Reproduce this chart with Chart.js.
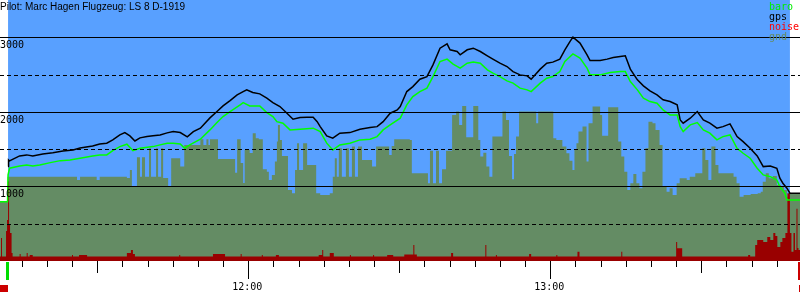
<!DOCTYPE html>
<html>
<head>
<meta charset="utf-8">
<script src="https://cdn.jsdelivr.net/npm/chart.js@4"></script>
<style>
html, body { margin: 0; padding: 0; background: #fff; }
</style>
</head>
<body>
<canvas id="barogram" width="800" height="300"></canvas>
<script>
// times are minutes after midnight (720 = 12:00)
const title = 'Pilot: Marc Hagen Flugzeug: LS 8 D-1919';
const takeoff = 672.3;
const landing = 827.6;
const startMark = 672.1;
const endMark = 829.3;

const gpsTime = [
  672.3,672.4,672.6,674.6,676.0,677.2,679.2,681.2,683.2,685.2,
  686.6,689.1,690.5,691.9,693.1,694.5,695.5,696.5,697.5,698.5,
  699.9,701.1,702.5,703.9,705.1,706.5,707.9,709.1,710.5,712.4,
  713.8,715.0,716.4,717.8,719.0,719.7,720.9,722.3,723.7,724.9,
  726.3,727.7,728.9,730.3,731.7,732.9,733.7,734.3,735.6,736.8,
  738.2,740.2,742.2,744.2,745.6,746.8,748.2,749.6,750.2,751.5,
  752.7,754.1,755.5,756.7,758.1,759.5,760.1,761.5,762.1,763.5,
  764.7,766.1,767.5,768.6,770.0,771.4,772.6,774.0,775.4,776.2,
  778.0,779.3,780.5,781.9,782.9,783.9,784.5,785.9,787.3,787.9,
  789.9,791.3,792.5,793.9,794.9,795.9,797.3,798.5,799.8,801.2,
  802.4,803.8,805.2,805.8,806.4,807.8,809.2,810.4,811.7,813.1,
  814.3,815.7,817.1,818.3,819.7,821.1,822.3,823.7,825.0,825.6,
  826.2,827.0,827.6,829.6
];
const gpsAlt = [
  1266,1355,1342,1409,1423,1409,1436,1453,1476,1490,
  1516,1543,1570,1580,1624,1691,1722,1678,1610,1651,
  1668,1678,1691,1718,1735,1722,1664,1735,1781,1919,
  2004,2080,2151,2228,2272,2295,2259,2241,2183,2124,
  2071,1982,1902,1923,1928,1928,1869,1802,1678,1647,
  1714,1722,1767,1789,1802,1869,1982,2026,2071,2272,
  2339,2438,2473,2630,2854,2912,2832,2809,2765,2832,
  2854,2809,2751,2707,2653,2608,2540,2496,2483,2438,
  2573,2653,2667,2707,2832,2943,3002,2922,2765,2688,
  2688,2707,2728,2742,2751,2573,2429,2349,2281,2228,
  2161,2138,2094,1892,1848,1915,2004,1892,1848,1781,
  1802,1839,1668,1601,1512,1409,1266,1275,1244,1110,
  1043,976,909,909
];

const baroTime = [
  670.7,672.2,672.3,672.6,674.6,676.0,677.2,678.6,680.7,682.7,
  684.6,686.6,689.1,690.5,691.9,693.1,694.5,695.9,697.1,698.5,
  701.1,702.5,703.9,705.1,706.5,707.4,708.4,710.5,712.4,713.8,
  715.0,716.4,718.4,719.0,720.3,722.3,723.7,724.9,725.7,726.9,
  728.3,730.3,732.9,734.3,735.6,736.8,738.2,740.2,742.2,744.2,
  745.6,746.8,748.2,750.2,751.5,752.7,754.1,755.5,756.7,758.1,
  759.5,760.7,762.1,763.5,764.7,766.1,767.5,768.6,770.0,771.4,
  772.6,774.0,775.4,776.2,778.0,779.3,780.5,781.9,782.9,784.5,
  785.9,787.3,787.9,789.9,791.9,793.9,794.9,795.9,797.3,798.5,
  799.8,801.2,802.4,803.8,805.2,805.8,806.4,807.8,809.2,810.4,
  811.7,813.1,814.3,815.7,817.1,818.3,819.7,821.1,822.3,823.7,
  825.0,825.6,826.6,827.0,829.6
];
const baroAlt = [
  796,796,1154,1244,1275,1288,1275,1288,1319,1346,
  1355,1378,1409,1423,1423,1480,1534,1566,1480,1512,
  1534,1557,1580,1580,1570,1512,1557,1633,1758,1856,
  1937,2004,2094,2124,2080,2080,1990,1937,1869,1848,
  1758,1767,1781,1735,1580,1490,1557,1580,1624,1633,
  1668,1758,1825,1915,2094,2205,2272,2318,2473,2675,
  2707,2640,2586,2653,2667,2653,2563,2519,2473,2416,
  2385,2318,2295,2272,2385,2452,2473,2540,2675,2778,
  2720,2586,2496,2496,2527,2540,2540,2406,2295,2183,
  2138,2116,2026,1959,1959,1802,1735,1825,1856,1758,
  1714,1624,1668,1691,1512,1445,1378,1244,1154,1131,
  1087,997,909,819,819
];

const gndTime = [
  670.7,672.2,686.0,686.6,689.9,690.5,695.9,696.5,696.9,697.9,
  698.5,698.9,699.5,700.3,700.7,701.7,702.1,702.7,703.1,704.1,
  704.7,706.5,707.3,710.5,711.1,711.7,712.1,712.4,714.0,717.4,
  717.8,718.5,719.0,719.3,720.3,720.9,721.5,722.1,722.9,723.7,
  724.1,724.7,725.3,725.7,725.9,726.3,726.7,727.9,728.7,729.3,
  729.7,730.1,730.9,731.7,733.5,734.3,736.2,736.8,737.2,737.6,
  738.0,738.6,739.4,740.0,740.6,741.2,741.8,742.6,744.6,745.4,
  748.0,748.5,749.0,752.1,752.5,755.7,756.1,756.7,757.3,757.9,
  758.5,759.3,760.5,761.3,761.9,762.5,763.3,764.7,765.7,766.1,
  766.7,767.3,767.9,768.5,770.5,771.2,771.8,772.4,772.8,773.2,
  773.8,777.2,777.6,780.6,781.2,782.4,783.2,783.8,784.4,784.8,
  785.2,785.6,786.4,787.2,787.6,788.4,789.9,790.3,791.5,793.5,
  794.1,794.7,795.3,795.9,796.5,797.1,797.7,798.3,798.9,799.5,
  800.3,800.9,801.7,802.3,803.1,803.7,804.3,805.1,805.7,807.1,
  807.7,808.8,810.2,810.8,811.4,812.0,812.8,813.4,816.4,817.0,
  817.6,818.4,819.8,821.2,821.8,822.2,822.8,823.4,824.2,825.0,
  825.8,826.4,827.0,827.6,829.6
];
const gndAlt = [
  796,1131,1087,1131,1087,1131,1114,1221,1007,1392,
  1131,1392,1131,1512,1131,1512,1131,1512,1114,1007,
  1378,1266,1557,1633,1557,1633,1557,1633,1369,1185,
  1633,1315,1047,1490,1449,1714,1647,1633,1231,1198,
  1087,1154,1333,1601,1825,1624,1409,953,909,1221,
  1580,1221,1580,1288,909,886,909,1131,1378,1131,
  1512,1131,1512,1131,1534,1131,1534,1355,1266,1534,
  1423,1543,1633,1624,1177,1043,1480,1043,1480,1043,
  1231,1480,1959,2004,1825,2080,1660,2080,1624,1400,
  1453,1266,1131,1668,2004,1892,1409,1096,1436,1668,
  2004,1848,2004,1647,1624,1534,1445,1346,1221,1490,
  1580,1735,1802,1333,1848,2071,1959,1678,2063,1601,
  1400,1198,953,1043,1168,1043,976,1198,1512,1869,
  1848,1758,1557,997,930,976,886,1043,1110,1087,
  1131,1177,1512,1355,1087,1534,1288,1177,1131,1043,
  863,886,899,909,930,1064,1177,1110,1141,1020,
  997,953,863,909,909
];

const noiseTime = [
  670.7,670.9,671.1,671.9,672.1,672.3,672.5,672.7,673.0,673.2,
  674.6,674.8,676.0,676.2,676.6,677.2,685.0,685.2,686.4,688.0,
  695.9,696.7,697.1,697.5,706.3,706.5,713.0,715.4,718.5,718.7,
  722.7,722.9,725.5,726.1,734.0,734.7,734.9,736.2,737.0,740.2,
  740.4,744.8,745.0,747.6,748.8,751.0,752.8,753.0,753.5,760.3,
  760.7,767.1,767.3,769.2,769.4,775.8,776.2,781.2,781.4,785.4,
  785.8,794.1,794.3,805.0,805.2,805.8,806.2,819.3,819.7,820.7,
  821.1,821.7,822.3,823.1,823.7,824.3,824.7,825.1,825.7,826.1,
  826.7,827.1,827.6,827.9,828.3,828.6,828.9,829.1,829.3,829.6
];
const noiseLevel = [
  17,88,17,115,157,306,138,107,31,17,
  27,17,31,17,23,17,23,17,23,17,
  31,42,27,17,23,17,27,17,27,17,
  23,17,23,17,23,42,17,31,17,23,
  17,23,17,23,17,25,61,25,17,31,
  17,61,17,23,17,27,17,23,17,35,
  17,35,17,73,49,49,17,23,17,61,
  80,80,73,92,80,107,96,54,73,88,
  107,260,107,35,107,42,200,50,42,42
];

const altLines = [500, 1000, 1500, 2000, 2500, 3000];
const hourLabels = [720, 780];

const skyColor = '#58a0ff';
const gndColor = '#648c64';
const noiseColor = '#990000';

function pts(times, vals) {
  return times.map((t, i) => ({x: t, y: vals[i]}));
}

function hhmm(t) {
  const h = Math.floor(t / 60), m = Math.round(t % 60);
  return h + ':' + (m < 10 ? '0' : '') + m;
}

const flightPlugin = {
  id: 'flight',
  beforeDatasetsDraw(chart) {
    const {ctx, chartArea, scales} = chart;
    const x0 = scales.x.getPixelForValue(takeoff);
    const x1 = scales.x.getPixelForValue(landing);
    ctx.save();
    ctx.fillStyle = skyColor;
    ctx.fillRect(x0, chartArea.top, x1 - x0, chartArea.bottom - chartArea.top);
    ctx.restore();
  },
  afterDatasetsDraw(chart) {
    const {ctx, chartArea, scales} = chart;
    const x = scales.x, y = scales.y;
    ctx.save();
    // altitude grid, solid every 1000 m, dashed in between
    ctx.strokeStyle = '#000';
    ctx.lineWidth = 1;
    ctx.font = '10px "DejaVu Sans Mono"';
    ctx.fillStyle = '#000';
    altLines.forEach(v => {
      const py = Math.round(y.getPixelForValue(v)) + 0.5;
      ctx.setLineDash(v % 1000 ? [4, 3] : []);
      ctx.beginPath();
      ctx.moveTo(0, py);
      ctx.lineTo(chart.width, py);
      ctx.stroke();
      if (v % 1000 === 0) {
        ctx.textAlign = 'left';
        ctx.textBaseline = 'alphabetic';
        ctx.fillText(String(v), 0, py + 10);
      }
    });
    ctx.setLineDash([]);

    // time ticks every 5 minutes
    const base = chartArea.bottom;
    for (let t = Math.ceil(x.min / 5) * 5; t <= x.max; t += 5) {
      const px = Math.round(x.getPixelForValue(t)) + 0.5;
      const len = t % 60 === 0 ? 18 : (t % 30 === 0 ? 12 : 6);
      ctx.beginPath();
      ctx.moveTo(px, base);
      ctx.lineTo(px, base + len);
      ctx.stroke();
    }
    ctx.textAlign = 'center';
    ctx.textBaseline = 'alphabetic';
    hourLabels.forEach(t => {
      ctx.fillText(hhmm(t), x.getPixelForValue(t) - 1, base + 29);
    });

    // start / end markers
    const s = x.getPixelForValue(startMark);
    const e = x.getPixelForValue(endMark);
    ctx.fillStyle = '#00dd00';
    ctx.fillRect(Math.round(s) - 1, base + 1, 3, 18);
    ctx.fillStyle = '#cc0000';
    ctx.fillRect(Math.round(e), base + 1, 2, 18);
    ctx.fillRect(0, base + 24, Math.round(s) + 1, 7);
    ctx.fillRect(chart.width - 1, base + 24, 1, 7);

    // legend, coloured names top right
    ctx.textAlign = 'left';
    chart.data.datasets.forEach((ds, i) => {
      ctx.fillStyle = ds.legendColor;
      ctx.fillText(ds.label, 769, 9.5 + i * 10);
    });

    // title
    ctx.font = '10px "Liberation Sans"';
    ctx.fillStyle = '#000';
    ctx.fillText(title, 0, 10);
    ctx.restore();
  }
};

new Chart(document.getElementById('barogram'), {
  type: 'line',
  data: {
    datasets: [
      {
        label: 'baro', data: pts(baroTime, baroAlt),
        borderColor: '#00ff00', legendColor: '#00ee00', borderWidth: 1.5,
        yAxisID: 'y'
      },
      {
        label: 'gps', data: pts(gpsTime, gpsAlt),
        borderColor: '#000000', legendColor: '#000000', borderWidth: 1.5,
        yAxisID: 'y'
      },
      {
        label: 'noise', data: pts(noiseTime, noiseLevel),
        borderColor: 'transparent', backgroundColor: noiseColor, legendColor: '#ff0000',
        borderWidth: 0, stepped: true, fill: 'origin', yAxisID: 'yn'
      },
      {
        label: 'gnd', data: pts(gndTime, gndAlt),
        borderColor: 'transparent', backgroundColor: gndColor, legendColor: gndColor,
        borderWidth: 0, stepped: true, fill: 'origin', yAxisID: 'y'
      }
    ]
  },
  options: {
    responsive: false,
    animation: false,
    parsing: true,
    layout: { padding: { left: 0, right: 0, top: 0, bottom: 39 } },
    elements: { point: { radius: 0 }, line: { tension: 0 } },
    plugins: { legend: { display: false }, tooltip: { enabled: false } },
    scales: {
      x: { type: 'linear', min: 670.7, max: 829.6, display: false },
      y: { min: 0, max: 3500, display: false },
      yn: { min: 0, max: 1000, display: false }
    }
  },
  plugins: [flightPlugin]
});
</script>
</body>
</html>
